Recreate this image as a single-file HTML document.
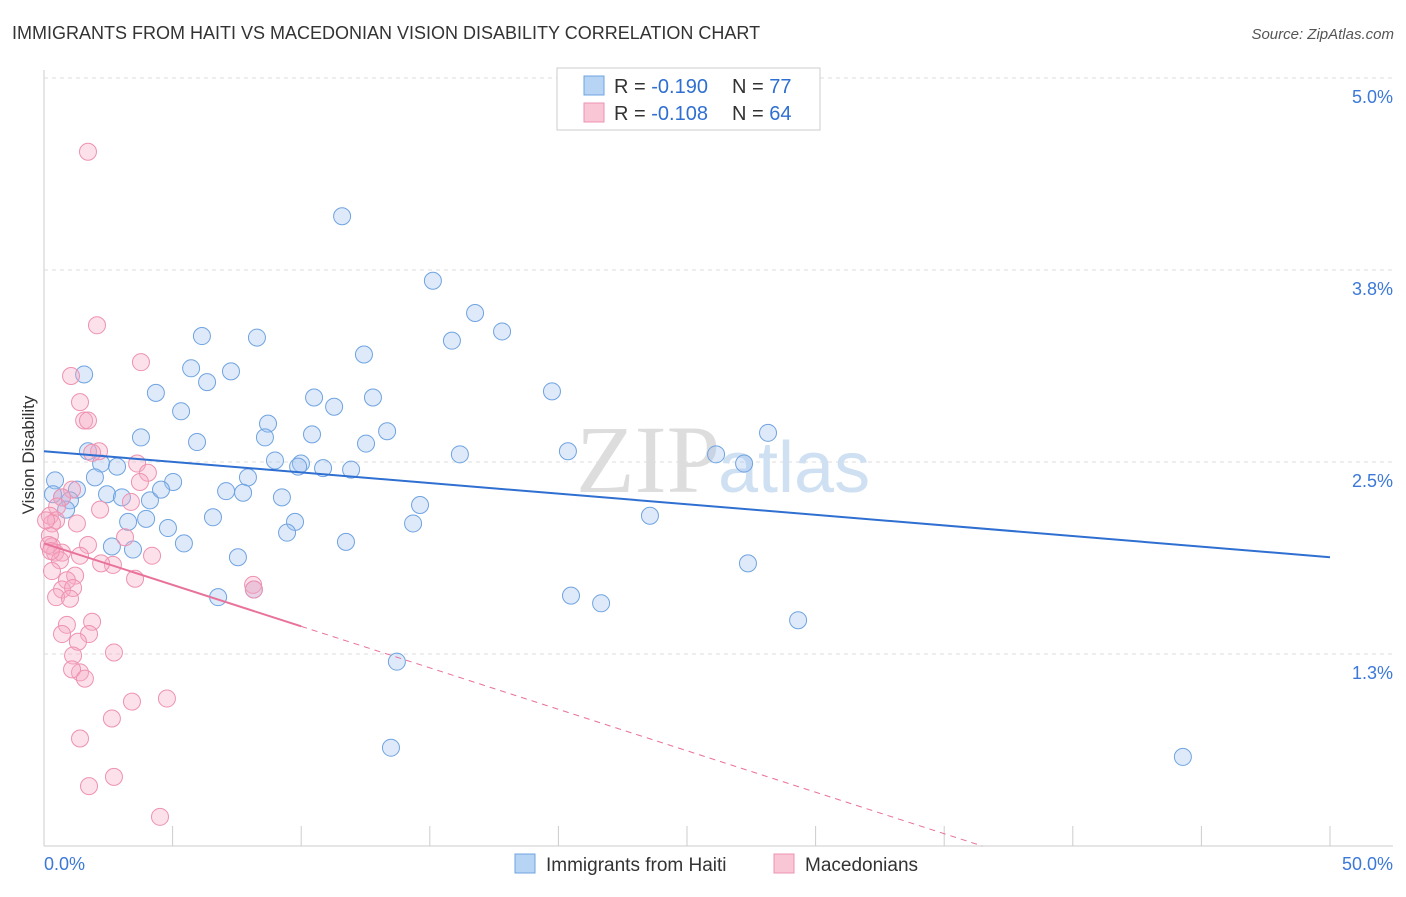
<!DOCTYPE html>
<html><head><meta charset="utf-8"><style>
body{margin:0;background:#fff;font-family:"Liberation Sans",sans-serif;}
#wrap{position:relative;width:1406px;height:892px;}
</style></head><body>
<div id="wrap">
<svg id="svg" width="1406" height="892">
<text x="12" y="39" font-size="18" fill="#333">IMMIGRANTS FROM HAITI VS MACEDONIAN VISION DISABILITY CORRELATION CHART</text>
<text x="1394" y="39" font-size="15" fill="#555" font-style="italic" text-anchor="end">Source: ZipAtlas.com</text>
<text x="34" y="455" font-size="17" fill="#333" transform="rotate(-90 34 455)" text-anchor="middle">Vision Disability</text>
<g id="grid"></g>
<text x="720" y="492" font-size="96" fill="#ddd" font-family="Liberation Serif" text-anchor="end">ZIP</text>
<text x="718" y="492" font-size="72" fill="#cfe0f3">atlas</text>
<g id="marks"></g>
<g>
<rect x="557" y="68" width="263" height="62" fill="#fff" stroke="#ccc"/>
<rect x="584" y="76" width="20" height="19" fill="#b8d4f5" stroke="#6fa3e0"/>
<rect x="584" y="103" width="20" height="19" fill="#f9c6d6" stroke="#ee92b0"/>
<text x="614" y="93" font-size="20" fill="#333">R = <tspan fill="#2f6fd1">-0.190</tspan></text>
<text x="732" y="93" font-size="20" fill="#333">N = <tspan fill="#2f6fd1">77</tspan></text>
<text x="614" y="120" font-size="20" fill="#333">R = <tspan fill="#2f6fd1">-0.108</tspan></text>
<text x="732" y="120" font-size="20" fill="#333">N = <tspan fill="#2f6fd1">64</tspan></text>
</g>
<g>
<rect x="515" y="854" width="20" height="19" fill="#b8d4f5" stroke="#6fa3e0"/>
<text x="546" y="871" font-size="19" fill="#333">Immigrants from Haiti</text>
<rect x="774" y="854" width="20" height="19" fill="#f9c6d6" stroke="#ee92b0"/>
<text x="805" y="871" font-size="19" fill="#333">Macedonians</text>
</g>
</svg>
</div>
<script>
const blueX=[11.59,15.12,16.76,17.81,15.86,6.14,8.28,12.44,1.56,5.72,7.27,6.34,4.35,10.50,12.79,19.75,5.33,11.28,8.71,3.77,8.59,10.42,13.34,5.95,12.52,28.15,1.71,2.22,2.84,8.98,9.99,9.88,10.85,11.94,16.17,20.37,26.13,27.22,0.43,1.98,5.02,7.93,1.28,0.70,2.45,3.03,4.12,4.55,7.08,7.74,9.25,14.62,1.01,0.86,0.35,3.27,3.97,4.82,6.57,9.76,9.45,14.35,23.56,2.64,3.46,5.44,7.54,11.74,27.37,6.77,8.16,20.49,21.66,29.32,13.72,13.49,44.28];
const blueY=[4.10,3.68,3.47,3.35,3.29,3.32,3.31,3.20,3.07,3.11,3.09,3.02,2.95,2.92,2.92,2.96,2.83,2.86,2.75,2.66,2.66,2.68,2.70,2.63,2.62,2.69,2.57,2.49,2.47,2.51,2.49,2.47,2.46,2.45,2.55,2.57,2.55,2.49,2.38,2.40,2.37,2.40,2.32,2.27,2.29,2.27,2.25,2.32,2.31,2.30,2.27,2.22,2.25,2.19,2.29,2.11,2.13,2.07,2.14,2.11,2.04,2.10,2.15,1.95,1.93,1.97,1.88,1.98,1.84,1.62,1.67,1.63,1.58,1.47,1.20,0.64,0.58];
const pinkX=[1.71,2.06,3.77,1.05,1.40,1.56,1.71,2.14,1.87,3.62,4.04,3.73,3.38,1.09,0.70,0.51,0.23,0.47,2.18,1.28,0.31,0.23,0.31,0.43,0.70,1.71,1.40,3.15,4.20,0.62,2.68,2.22,0.31,1.21,0.89,0.70,1.13,3.54,8.13,0.47,1.01,1.87,0.89,1.75,0.70,1.32,2.72,1.13,1.40,1.09,1.59,3.42,4.78,2.64,1.40,2.72,1.75,4.51,0.19,0.27,0.08,8.16];
const pinkY=[4.52,3.39,3.15,3.06,2.89,2.77,2.77,2.57,2.56,2.49,2.43,2.37,2.24,2.32,2.27,2.21,2.15,2.12,2.19,2.10,2.10,2.02,1.95,1.91,1.91,1.96,1.89,2.01,1.89,1.86,1.83,1.84,1.79,1.76,1.73,1.67,1.68,1.74,1.70,1.62,1.61,1.46,1.44,1.38,1.38,1.33,1.26,1.24,1.13,1.15,1.09,0.94,0.96,0.83,0.70,0.45,0.39,0.19,1.96,1.92,2.12,1.67];
const blueTrend=[2.57,-0.0138];
const pinkTrend=[1.97,-0.054];
const yTicks=[5.0,3.75,2.5,1.25];
const yTickLabels=["5.0%","3.8%","2.5%","1.3%"];
const xTicks=[0,5,10,15,20,25,30,35,40,45,50];

const NS="http://www.w3.org/2000/svg";
const sx=v=>44+v*25.72, sy=v=>846-v*153.6;
function mk(tag,attrs,parent){const e=document.createElementNS(NS,tag);for(const k in attrs)e.setAttribute(k,attrs[k]);parent.appendChild(e);return e;}
const grid=document.getElementById('grid'), marks=document.getElementById('marks');
let ax=mk('line',{x1:44,y1:70,x2:44,y2:846,stroke:'#ccc'},grid);


let bx=mk('line',{x1:44,y1:846,x2:1393,y2:846,stroke:'#ccc'},grid);


yTicks.forEach((v,i)=>{
 let g=mk('line',{x1:44,x2:1393,y1:sy(v),y2:sy(v),stroke:'#ddd','stroke-dasharray':'4,4'},grid);
 
 
 let t=mk('text',{x:1393,y:sy(v)+25,'font-size':18,fill:'#3b78d8','text-anchor':'end'},grid);
 t.textContent=yTickLabels[i];
 
 
});
xTicks.forEach(v=>{
 let l=mk('line',{x1:sx(v),x2:sx(v),y1:826,y2:846,stroke:'#ccc'},grid);
 
 
});
let t0=mk('text',{x:44,y:870,'font-size':18,fill:'#3b78d8'},grid);t0.textContent="0.0%";


let t1=mk('text',{x:1393,y:870,'font-size':18,fill:'#3b78d8','text-anchor':'end'},grid);t1.textContent="50.0%";



blueX.forEach((x,i)=>{
 let c=mk('circle',{cx:sx(x),cy:sy(blueY[i]),r:8.5,fill:'rgba(160,196,240,0.35)',stroke:'#6fa3e0','stroke-width':1},marks);
 
 
});
pinkX.forEach((x,i)=>{
 let c=mk('circle',{cx:sx(x),cy:sy(pinkY[i]),r:8.5,fill:'rgba(246,170,196,0.35)',stroke:'#ee92b0','stroke-width':1},marks);
 
 
});
let bl=mk('line',{x1:sx(0),y1:sy(blueTrend[0]),x2:sx(50),y2:sy(blueTrend[0]+blueTrend[1]*50),stroke:'#2f6fd1','stroke-width':2},marks);


const xEnd=-pinkTrend[0]/pinkTrend[1];
let pd=mk('line',{x1:sx(10),y1:sy(pinkTrend[0]+pinkTrend[1]*10),x2:sx(xEnd),y2:sy(0),stroke:'#e8729a','stroke-width':1,'stroke-dasharray':'6,5'},marks);


let pl=mk('line',{x1:sx(0),y1:sy(pinkTrend[0]),x2:sx(10),y2:sy(pinkTrend[0]+pinkTrend[1]*10),stroke:'#e8729a','stroke-width':2},marks);


</script>
</body></html>
